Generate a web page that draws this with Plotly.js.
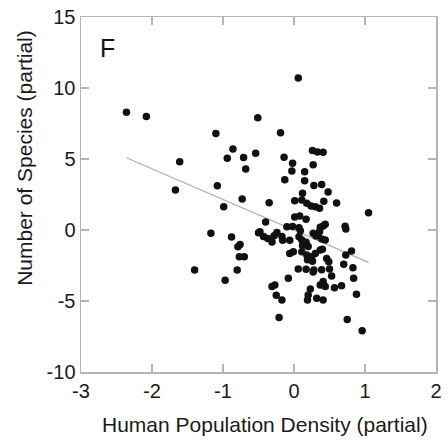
<!DOCTYPE html>
<html>
<head>
<meta charset="utf-8">
<script src="https://cdn.plot.ly/plotly-3.0.1.min.js"></script>
<style>html,body{margin:0;padding:0;background:#fff;}#chart{width:448px;height:441px;}</style>
</head>
<body>
<div id="chart"></div>
<script>
// Partial residuals: human population density (x) vs number of species (y)
const densityX = [
  0.06, -2.36, -2.08, -0.51, -1.10, -0.19, -0.86, -0.54, -0.94, -0.71,
  -0.68, -1.61, -0.14, -0.02, -0.03, 0.26, 0.33, 0.41, 0.27, 0.15,
  -0.13, 0.15, 0.28, 0.39, 0.48, -1.67, -1.08, -0.73, -0.99, -0.35,
  0.12, 0.01, 0.11, 0.18, 0.24, 0.30, 0.36, 0.42, 0.60, 1.05,
  0.01, 0.08, 0.17, -0.40, -0.10, -0.02, 0.07, 0.37, 0.44, 0.41,
  0.72, 0.73, -1.17, -0.88, -0.76, -0.79, -0.77, -0.70, -1.40, -0.80,
  -0.97, -0.50, -0.48, -0.43, -0.37, -0.31, -0.28, -0.24, -0.17, -0.16,
  -0.06, 0.07, 0.11, 0.17, 0.12, 0.20, 0.27, 0.31, 0.34, 0.39,
  0.44, 0.36, -0.06, -0.01, 0.11, 0.18, 0.25, 0.30, 0.37, 0.40,
  0.19, 0.26, 0.46, 0.49, 0.73, 0.81, 0.70, 0.83, 0.06, 0.17,
  0.28, 0.39, 0.50, 0.27, -0.08, 0.53, 0.84, -0.31, -0.27, -0.25,
  -0.17, 0.23, 0.20, 0.19, 0.32, 0.41, 0.37, 0.44, 0.41, 0.57,
  0.67, 0.88, -0.21, 0.75, 0.96, 0.09
];
const speciesY = [
  10.7, 8.3, 8.0, 7.9, 6.8, 6.85, 5.7, 5.4, 5.05, 5.1,
  4.3, 4.8, 5.12, 4.7, 4.15, 5.6, 5.5, 5.47, 4.6, 4.1,
  3.54, 3.47, 3.14, 3.2, 2.68, 2.82, 3.12, 2.18, 1.64, 1.92,
  2.58, 2.06, 2.11, 1.88, 1.69, 1.64, 1.53, 2.02, 1.9, 1.22,
  0.92, 0.98, 0.75, 0.56, 0.23, 0.25, 0.16, 0.19, 0.40, 0.28,
  0.26, 0.07, -0.23, -0.5, -1.02, -1.18, -1.88, -1.88, -2.82, -2.82,
  -3.54, -0.2, -0.12, -0.45, -0.59, -0.85, -0.4, -0.17, -0.45, -0.72,
  -0.72, -0.47, -0.70, -0.87, -1.1, -1.17, -0.23, -0.42, -0.35, -0.63,
  -0.70, -0.1, -1.65, -1.53, -1.53, -1.76, -1.88, -1.65, -1.41, -1.36,
  -2.1, -2.2, -2.0, -2.23, -1.76, -1.48, -2.41, -2.65, -2.75, -2.77,
  -2.82, -2.8, -2.75, -2.95, -3.40, -3.24, -3.40, -3.98, -3.87, -4.6,
  -4.93, -4.15, -4.58, -4.93, -4.81, -4.93, -3.87, -3.98, -3.63, -4.06,
  -3.92, -4.53, -6.17, -6.3, -7.09, -0.05
];
// Fitted regression line parameters
const fitSlope = -2.16;
const fitIntercept = -0.01;
const panelLabel = "F";
const xTitle = 'Human Population Density (partial)';
const yTitle = 'Number of Species (partial)';
const xTicks = [-3, -2, -1, 0, 1, 2];
const yTicks = [-10, -5, 0, 5, 10, 15];

const xMin = Math.min(...densityX), xMax = Math.max(...densityX);
const fitX = [xMin, xMax];
const fitY = fitX.map(v => fitIntercept + fitSlope * v);

const axisColor = '#b4b4b4';
const fontFam = 'Liberation Sans, Arial, sans-serif';
const textColor = '#1a1a1a';

const data = [
  {x: fitX, y: fitY, type: 'scatter', mode: 'lines',
   line: {color: '#b0b0b0', width: 1.2}, hoverinfo: 'skip'},
  {x: densityX, y: speciesY, type: 'scatter', mode: 'markers',
   marker: {color: '#111', size: 7.5}}
];

const axisCommon = {
  showgrid: false, zeroline: false, showline: true, mirror: 'ticks',
  linecolor: axisColor, linewidth: 1.5, ticks: 'inside', ticklen: 8,
  tickwidth: 1.5, tickcolor: axisColor,
  tickfont: {family: fontFam, size: 20, color: textColor}
};

const layout = {
  width: 448, height: 441,
  margin: {l: 81, r: 12, t: 17, b: 69},
  paper_bgcolor: '#fff', plot_bgcolor: '#fff',
  showlegend: false,
  xaxis: Object.assign({}, axisCommon, {
    range: [-3, 2], tickvals: xTicks, ticktext: xTicks.map(String),
    ticklabelstandoff: 0
  }),
  yaxis: Object.assign({}, axisCommon, {
    range: [-10, 15], tickvals: yTicks, ticktext: yTicks.map(String)
  }),
  annotations: [
    {x: -2.63, y: 12.8, xref: 'x', yref: 'y', text: panelLabel,
     showarrow: false, font: {family: fontFam, size: 25, color: '#111'}},
    {x: 0.5185, y: -0.149, xref: 'paper', yref: 'paper', text: xTitle,
     xanchor: 'center', yanchor: 'middle', showarrow: false,
     font: {family: fontFam, size: 21, color: textColor}},
    {x: -0.158, y: 0.603, xref: 'paper', yref: 'paper', text: yTitle,
     textangle: -90, xanchor: 'center', yanchor: 'middle', showarrow: false,
     font: {family: fontFam, size: 21, color: textColor}}
  ]
};

Plotly.newPlot('chart', data, layout, {displayModeBar: false, staticPlot: true});
</script>
</body>
</html>
